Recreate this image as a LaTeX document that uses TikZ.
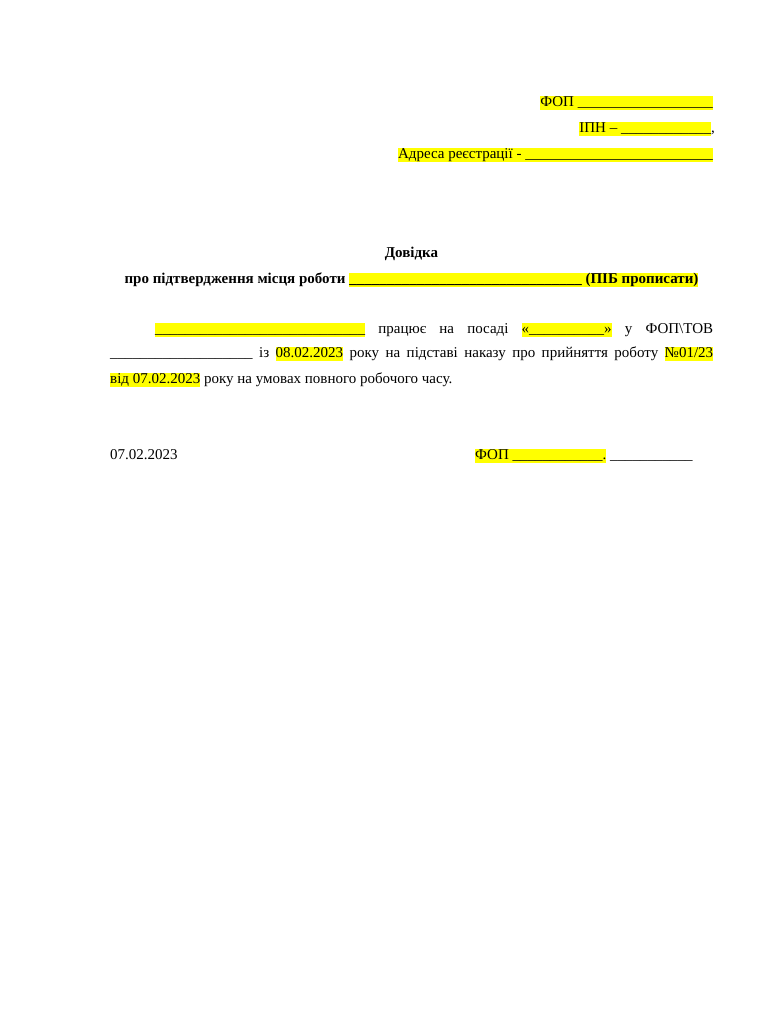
\documentclass[tikz,border=0pt]{standalone}
\usepackage{fontspec}
\setmainfont{Liberation Serif}
\definecolor{hly}{RGB}{255,255,0}
\newcommand{\hl}[1]{{\setlength{\fboxsep}{0pt}\colorbox{hly}{\rule[-3.5pt]{0pt}{14pt}#1}}}
\newcommand{\us}[1]{\foreach \i in {1,...,#1}{\_}}
\begin{document}
\begin{tikzpicture}[x=1pt,y=-1pt,
  txt/.style={inner sep=0pt,font=\fontsize{15}{18}\selectfont}]
\useasboundingbox[fill=white] (0,0) rectangle (768,1024);
\node[txt,anchor=base east] (h1) at (713,107) {\hl{ФОП \us{18}}};
\node[txt,anchor=base east] (h2) at (715,133) {\hl{ІПН – \us{12}},};
\node[txt,anchor=base east] (h3) at (713,159) {\hl{Адреса реєстрації - \us{25}}};
\node[txt,anchor=base,font=\fontsize{15}{18}\selectfont\bfseries] (t1) at (411.5,257) {Довідка};
\node[txt,anchor=base,font=\fontsize{15}{18}\selectfont\bfseries] (t2) at (411.5,283) {про підтвердження місця роботи \hl{\us{31} (ПІБ прописати)}};
\node[txt,anchor=base west] (p1) at (155,333) {\makebox[558pt][s]{\hl{\us{28}} працює на посаді \hl{«\us{10}»} у ФОП\textbackslash ТОВ}};
\node[txt,anchor=base west] (p2) at (110,357) {\makebox[603pt][s]{\us{19} із \hl{08.02.2023} року на підставі наказу про прийняття роботу \hl{№01/23}}};
\node[txt,anchor=base west] (p3) at (110,383) {\hl{від 07.02.2023} року на умовах повного робочого часу.};
\node[txt,anchor=base west] (d) at (110,459) {07.02.2023};
\node[txt,anchor=base west] (s) at (475,459) {\hl{ФОП \us{12}.} \us{11}};
\end{tikzpicture}
\end{document}
